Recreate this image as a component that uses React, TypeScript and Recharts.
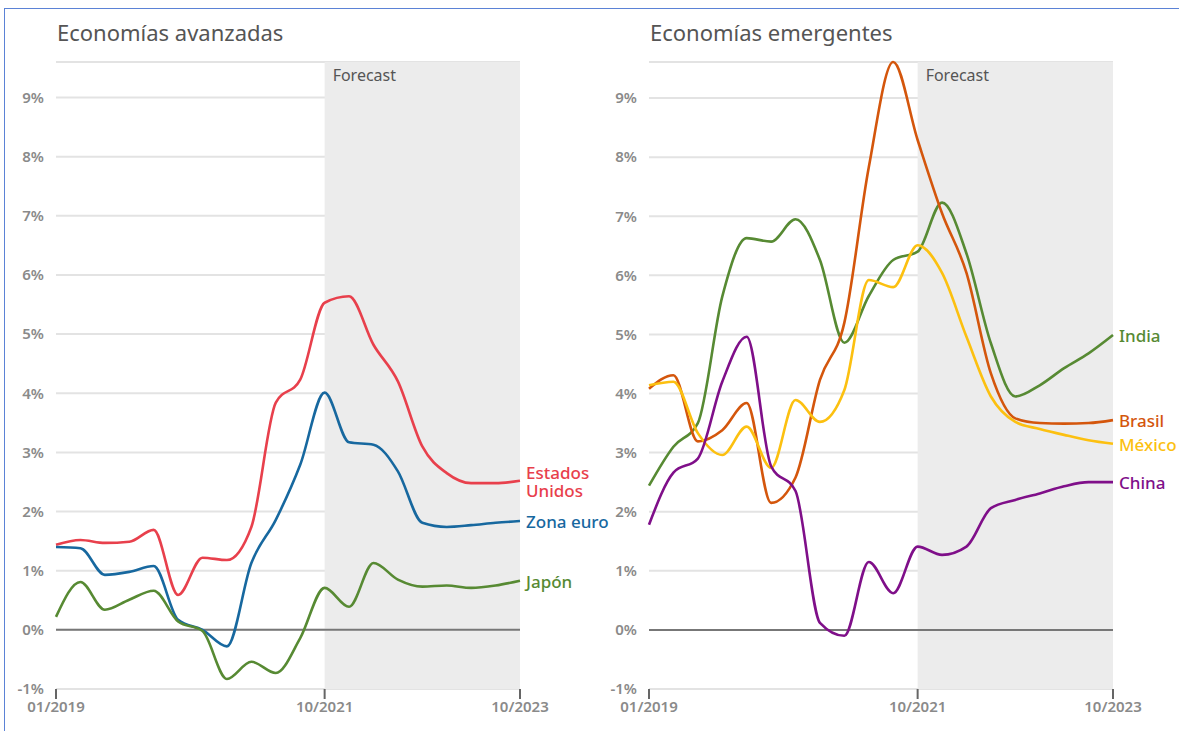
import React from 'react';
import {
  LineChart,
  Line,
  XAxis,
  YAxis,
  CartesianGrid,
  ReferenceArea,
  ReferenceLine,
} from 'recharts';

// quarterly observations, 01/2019 .. 10/2023
const quarters = [
  '01/2019', '04/2019', '07/2019', '10/2019',
  '01/2020', '04/2020', '07/2020', '10/2020',
  '01/2021', '04/2021', '07/2021', '10/2021',
  '01/2022', '04/2022', '07/2022', '10/2022',
  '01/2023', '04/2023', '07/2023', '10/2023',
];

const xTicks = ['01/2019', '10/2021', '10/2023'];
const yTicks = [-1, 0, 1, 2, 3, 4, 5, 6, 7, 8, 9];

// Economías avanzadas
const estadosUnidos = [1.44, 1.52, 1.47, 1.49, 1.69, 0.59, 1.22, 1.18, 1.74, 3.84, 4.23, 5.53, 5.64, 4.82, 4.2, 3.1, 2.65, 2.48, 2.48, 2.52];
const zonaEuro = [1.4, 1.38, 0.93, 0.98, 1.08, 0.17, 0.0, -0.28, 1.13, 1.86, 2.79, 4.01, 3.17, 3.13, 2.68, 1.81, 1.74, 1.77, 1.81, 1.84];
const japon = [0.22, 0.81, 0.34, 0.51, 0.66, 0.14, -0.02, -0.83, -0.54, -0.73, -0.14, 0.71, 0.39, 1.13, 0.85, 0.73, 0.75, 0.71, 0.75, 0.83];

// Economías emergentes
const india = [2.44, 3.1, 3.5, 5.64, 6.63, 6.57, 6.95, 6.26, 4.86, 5.65, 6.26, 6.4, 7.23, 6.37, 4.85, 3.95, 4.14, 4.43, 4.68, 4.99];
const brasil = [4.08, 4.31, 3.19, 3.38, 3.84, 2.15, 2.58, 4.23, 5.2, 7.83, 9.61, 8.29, 7.05, 6.04, 4.34, 3.58, 3.5, 3.49, 3.5, 3.55];
const mexico = [4.14, 4.2, 3.33, 2.96, 3.44, 2.74, 3.89, 3.52, 4.06, 5.92, 5.8, 6.51, 6.04, 4.96, 3.95, 3.52, 3.4, 3.3, 3.21, 3.15];
const china = [1.78, 2.66, 2.9, 4.2, 4.96, 2.77, 2.35, 0.12, -0.1, 1.15, 0.62, 1.41, 1.27, 1.41, 2.06, 2.2, 2.31, 2.43, 2.5, 2.5];

const FONT = '"Noto Sans", "Open Sans", sans-serif';

type SeriesDef = { key: string; label: string[]; color: string; values: number[] };

const advanced: SeriesDef[] = [
  { key: 'us', label: ['Estados', 'Unidos'], color: '#e8404c', values: estadosUnidos },
  { key: 'eu', label: ['Zona euro'], color: '#17689f', values: zonaEuro },
  { key: 'jp', label: ['Japón'], color: '#578a33', values: japon },
];

const emerging: SeriesDef[] = [
  { key: 'in', label: ['India'], color: '#578a33', values: india },
  { key: 'br', label: ['Brasil'], color: '#d4560c', values: brasil },
  { key: 'mx', label: ['México'], color: '#fcc010', values: mexico },
  { key: 'cn', label: ['China'], color: '#7f0f89', values: china },
];

const buildRows = (series: SeriesDef[]) =>
  quarters.map((q, i) => {
    const row: Record<string, string | number> = { q };
    series.forEach((s) => {
      row[s.key] = s.values[i];
    });
    return row;
  });

const endLabel = (s: SeriesDef) => (props: any) => {
  const { x, y, index } = props;
  if (index !== quarters.length - 1) return null;
  const lh = 18;
  const top = y - ((s.label.length - 1) * lh) / 2;
  return (
    <text
      key={s.key + '-lbl'}
      x={x + 6}
      y={top}
      fill={s.color}
      fontSize={17}
      fontWeight={500}
      fontFamily={FONT}
      dominantBaseline="central"
    >
      {s.label.map((t, i) => (
        <tspan key={t} x={x + 6} y={top + i * lh}>
          {t}
        </tspan>
      ))}
    </text>
  );
};

const Panel: React.FC<{ title: string; series: SeriesDef[]; left: number; width: number; right: number }> = ({
  title,
  series,
  left,
  width,
  right,
}) => {
  const rows = buildRows(series);
  return (
    <div style={{ position: 'absolute', left, top: 0, width, height: 731 }}>
      <div
        style={{
          position: 'absolute',
          left: 57,
          top: 17,
          fontFamily: FONT,
          fontSize: 22,
          color: '#555',
          whiteSpace: 'nowrap',
        }}
      >
        {title}
      </div>
      <LineChart width={width} height={731} data={rows} margin={{ top: 62, right, bottom: 0, left: 0 }}>
        <ReferenceArea
          x1="10/2021"
          x2="10/2023"
          fill="#ececec"
          fillOpacity={1}
          stroke="none"
          label={{
            value: 'Forecast',
            position: 'insideTopLeft',
            offset: 8,
            fill: '#555',
            fontSize: 16,
            fontFamily: FONT,
          }}
        />
        <CartesianGrid vertical={false} stroke="#e3e3e3" strokeWidth={2} />
        <ReferenceLine y={0} stroke="#777" strokeWidth={2} />
        <XAxis
          dataKey="q"
          ticks={xTicks}
          interval={0}
          height={42}
          axisLine={false}
          tickLine={{ stroke: '#666', strokeWidth: 2 }}
          tickSize={10}
          tickMargin={2}
          tick={{ fill: '#8a8a8a', fontSize: 15, fontWeight: 600, fontFamily: FONT }}
        />
        <YAxis
          domain={[-1, 9.6]}
          ticks={yTicks}
          width={56}
          axisLine={false}
          tickLine={false}
          tickSize={0}
          tickMargin={12}
          tickFormatter={(v: number) => `${v}%`}
          tick={{ fill: '#8a8a8a', fontSize: 15, fontWeight: 600, fontFamily: FONT }}
        />
        {series.map((s) => (
          <Line
            key={s.key}
            type="monotone"
            dataKey={s.key}
            stroke={s.color}
            strokeWidth={2.6}
            dot={false}
            isAnimationActive={false}
            label={endLabel(s)}
          />
        ))}
      </LineChart>
    </div>
  );
};

export default function App() {
  return (
    <div style={{ position: 'absolute', left: 0, top: 0, width: 1179, height: 731, background: '#fff', overflow: 'hidden' }}>
      <div
        style={{
          position: 'absolute',
          left: 4,
          top: 8,
          width: 1175,
          height: 723,
          borderTop: '1.5px solid #5b82d6',
          borderLeft: '1.5px solid #5b82d6',
          boxSizing: 'border-box',
        }}
      />
      <Panel title="Economías avanzadas" series={advanced} left={0} width={625} right={105} />
      <Panel title="Economías emergentes" series={emerging} left={593} width={586} right={66} />
    </div>
  );
}
